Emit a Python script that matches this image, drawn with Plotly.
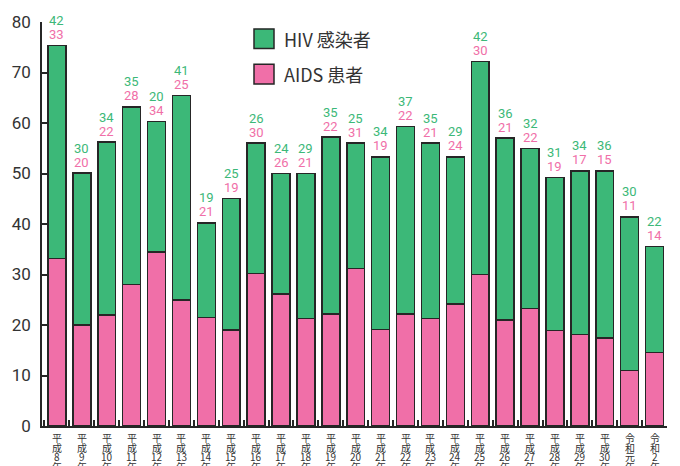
import plotly.graph_objects as go

# categories (era, year)
eras = ["平成"] * 23 + ["令和"] * 2
years = [str(n) for n in range(8, 31)] + ["元", "2"]

# printed value labels
hiv_labels = [42, 30, 34, 35, 20, 41, 19, 25, 26, 24, 29, 35, 25, 34, 37, 35, 29, 42, 36, 32, 31, 34, 36, 30, 22]
aids_labels = [33, 20, 22, 28, 34, 25, 21, 19, 30, 26, 21, 22, 31, 19, 22, 21, 24, 30, 21, 22, 19, 17, 15, 11, 14]

# bar segment heights as drawn
aids_bar = [33.2, 20, 22, 28, 34.5, 25, 21.5, 19, 30.2, 26.1, 21.3, 22.2, 31.2, 19.1, 22.2, 21.3, 24.2, 30, 21, 23.3, 18.9, 18.1, 17.4, 11, 14.6]
hiv_bar = [42.1, 30.1, 34.2, 35.2, 25.8, 40.4, 18.7, 26.1, 25.8, 23.9, 28.7, 35, 24.8, 34.2, 37.1, 34.7, 29.1, 42.2, 36, 31.7, 30.3, 32.4, 33.1, 30.4, 20.9]

cats = [f"{e}{y}年" for e, y in zip(eras, years)]
totals = [a + h for a, h in zip(aids_bar, hiv_bar)]

GREEN = "#3cb878"
PINK = "#f06fa8"
LINE = "#262626"
NUMFONT = "Roboto, Liberation Sans, sans-serif"
CJK = "Noto Sans CJK JP, Noto Sans, sans-serif"

fig = go.Figure()
fig.add_trace(go.Bar(x=cats, y=aids_bar, name="AIDS 患者", marker=dict(color=PINK, line=dict(color=LINE, width=1.5)), width=0.72, hoverinfo="skip"))
fig.add_trace(go.Bar(x=cats, y=hiv_bar, name="HIV 感染者", marker=dict(color=GREEN, line=dict(color=LINE, width=1.5)), width=0.72, hoverinfo="skip"))

ann = []
for c, t, hl, al in zip(cats, totals, hiv_labels, aids_labels):
    ann.append(dict(x=c, y=t, text=str(al), showarrow=False, yshift=11, font=dict(family=NUMFONT, size=13, color=PINK)))
    ann.append(dict(x=c, y=t, text=str(hl), showarrow=False, yshift=25, font=dict(family=NUMFONT, size=13, color=GREEN)))

# vertical category labels
for c, e, y in zip(cats, eras, years):
    rows = [e[0], e[1], y, "年"]
    for i, r in enumerate(rows):
        ann.append(dict(x=c, y=0, yref="y", text=r, showarrow=False, yanchor="middle",
                        yshift=-(11.5 + i * 9.6), font=dict(family=CJK, size=10, color="#333333")))

# legend
legend_items = [("HIV 感染者", GREEN, 33), ("AIDS 患者", PINK, 69)]
shapes = []
for label, col, yc in legend_items:
    shapes.append(dict(type="rect", xref="paper", yref="paper",
                       x0=(254 - 42) / 625, x1=(274 - 42) / 625,
                       y0=(426 - (yc + 10)) / 410, y1=(426 - (yc - 10)) / 410,
                       fillcolor=col, line=dict(color=LINE, width=1.5)))
    ann.append(dict(xref="paper", yref="paper", x=(282 - 42) / 625, y=(426 - yc) / 410,
                    xanchor="left", yanchor="middle", text=label, showarrow=False,
                    font=dict(family=CJK, size=18, color="#333333")))

fig.update_layout(
    width=680, height=466,
    margin=dict(l=42, r=13, t=16, b=40),
    barmode="stack",
    showlegend=False,
    plot_bgcolor="white", paper_bgcolor="white",
    annotations=ann, shapes=shapes,
    bargap=0.28,
)
fig.update_xaxes(type="category", range=[-0.6, 24.5], showticklabels=False,
                 ticks="inside", tickson="boundaries", ticklen=6, tickcolor=LINE, tickwidth=1.5,
                 showline=True, linecolor=LINE, linewidth=1.5, showgrid=False, zeroline=False)
fig.update_yaxes(range=[0, 80], dtick=10, ticks="inside", ticklen=6, tickcolor=LINE, tickwidth=1.5,
                 showline=True, linecolor=LINE, linewidth=1.5, showgrid=False, zeroline=False,
                 tickfont=dict(family=NUMFONT, size=17, color="#333333"), ticklabelstandoff=6)

fig.write_html("out.html", config={"displayModeBar": False},
               post_script="document.body.style.margin='0';document.body.style.overflow='hidden';")
